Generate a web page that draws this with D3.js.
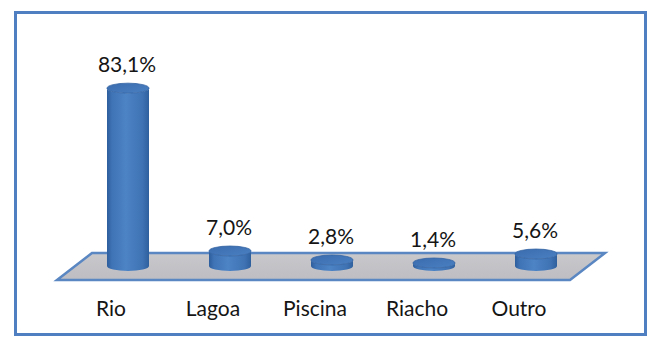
<!DOCTYPE html>
<html>
<head>
<meta charset="utf-8">
<script src="https://cdn.jsdelivr.net/npm/d3@7"></script>
<style>
  html, body { margin: 0; padding: 0; background: #fff; }
  svg { display: block; }
  text { font-family: Lato, "Open Sans", sans-serif; fill: #151515; }
</style>
</head>
<body>
<svg id="chart" width="651" height="337"></svg>
<script>
// Place where people bathe: share of respondents
const categories = ["Rio", "Lagoa", "Piscina", "Riacho", "Outro"];
const values = [83.1, 7.0, 2.8, 1.4, 5.6];
const valueLabels = ["83,1%", "7,0%", "2,8%", "1,4%", "5,6%"];

const svg = d3.select("#chart");

// Outer frame
svg.append("rect")
  .attr("x", 15.5).attr("y", 12.5)
  .attr("width", 630).attr("height", 322)
  .attr("fill", "#fff")
  .attr("stroke", "#4f7fc0")
  .attr("stroke-width", 3);

// Scales
const x = d3.scalePoint().domain(categories).range([128, 536]);
const baseY = 266;
const y = d3.scaleLinear().domain([0, 100]).range([baseY, baseY - 214]);
const rx = 21, ry = 5;

// Floor (3D base plane)
const floorTop = 253, floorBottom = 280;
const floor = [[92, floorTop], [605, floorTop], [570, floorBottom], [57, floorBottom]];
const defs = svg.append("defs");
const fg = defs.append("linearGradient").attr("id", "floorGrad")
  .attr("x1", 0).attr("y1", 0).attr("x2", 0).attr("y2", 1);
fg.append("stop").attr("offset", "0%").attr("stop-color", "#c9c9cc");
fg.append("stop").attr("offset", "100%").attr("stop-color", "#bdbdc2");
svg.append("path")
  .attr("d", d3.line()(floor) + "Z")
  .attr("fill", "url(#floorGrad)")
  .attr("stroke", "#5a86c2")
  .attr("stroke-width", 2.5)
  .attr("stroke-linejoin", "miter");

// Cylinder shading
const bg = defs.append("linearGradient").attr("id", "cylBody")
  .attr("x1", 0).attr("y1", 0).attr("x2", 1).attr("y2", 0);
bg.append("stop").attr("offset", "0%").attr("stop-color", "#2d5d9c");
bg.append("stop").attr("offset", "12%").attr("stop-color", "#3f74b6");
bg.append("stop").attr("offset", "45%").attr("stop-color", "#4d84c6");
bg.append("stop").attr("offset", "85%").attr("stop-color", "#3e72b3");
bg.append("stop").attr("offset", "100%").attr("stop-color", "#2f5f9d");
const tg = defs.append("linearGradient").attr("id", "cylTop")
  .attr("x1", 0).attr("y1", 0).attr("x2", 1).attr("y2", 1);
tg.append("stop").attr("offset", "0%").attr("stop-color", "#3a6cae");
tg.append("stop").attr("offset", "100%").attr("stop-color", "#4a80c2");

const bars = svg.append("g").selectAll("g")
  .data(categories.map((c, i) => ({ c, v: values[i], label: valueLabels[i] })))
  .join("g");

// Body: side walls plus the front half of the base ellipse
bars.append("path")
  .attr("d", d => {
    const cx = x(d.c), top = y(d.v);
    return `M${cx - rx},${top} L${cx - rx},${baseY} ` +
      `A${rx},${ry} 0 0 0 ${cx + rx},${baseY} L${cx + rx},${top} ` +
      `A${rx},${ry} 0 0 1 ${cx - rx},${top} Z`;
  })
  .attr("fill", "url(#cylBody)");

// Top cap
bars.append("ellipse")
  .attr("cx", d => x(d.c))
  .attr("cy", d => y(d.v))
  .attr("rx", rx).attr("ry", ry)
  .attr("fill", "url(#cylTop)")
  .attr("stroke", "#3565a3")
  .attr("stroke-width", 0.8);

// Value labels above each cylinder
bars.append("text")
  .attr("x", d => x(d.c) - 1)
  .attr("y", d => y(d.v) - 16)
  .attr("text-anchor", "middle")
  .attr("font-size", 21)
  .text(d => d.label);

// Category labels in front of the floor
svg.append("g").selectAll("text")
  .data(categories)
  .join("text")
  .attr("x", d => x(d) - 17)
  .attr("y", 316)
  .attr("text-anchor", "middle")
  .attr("font-size", 21)
  .text(d => d);
</script>
</body>
</html>
